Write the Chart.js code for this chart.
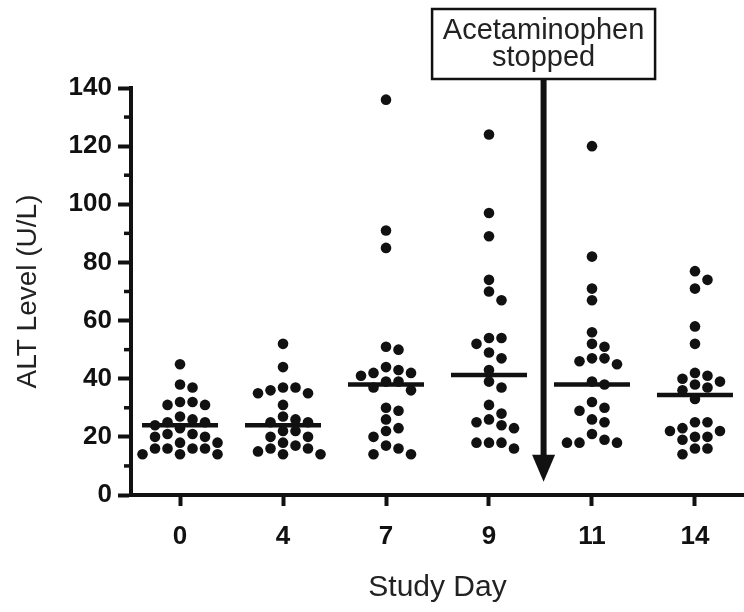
<!DOCTYPE html>
<html><head><meta charset="utf-8">
<script src="https://cdn.jsdelivr.net/npm/chart.js@4"></script>
<style>html,body{margin:0;padding:0;background:#fff}</style>
</head><body>
<canvas id="c" width="744" height="612"></canvas>
<script>
// ---- data ----
const studyDays = ['0', '4', '7', '9', '11', '14'];
const day0  = [45, 38, 37, 32, 31, 31, 32, 27, 25, 24, 25, 26, 23, 21, 21, 20, 20, 18, 18, 16, 16, 16, 16, 14, 14, 14];
const day4  = [52, 44, 37, 35, 36, 37, 35, 31, 26, 25, 25, 27, 22, 22, 20, 20, 18, 17, 16, 15, 14, 14, 16];
const day7  = [136, 91, 85, 51, 50, 44, 42, 41, 42, 43, 39, 37, 36, 39, 30, 29, 26, 22, 23, 20, 16, 14, 14, 17];
const day9  = [124, 97, 89, 74, 70, 67, 54, 52, 54, 49, 47, 43, 39, 37, 31, 28, 26, 24, 23, 25, 18, 16, 18, 18];
const day11 = [120, 82, 71, 67, 56, 52, 51, 47, 45, 46, 47, 39, 38, 32, 30, 29, 26, 25, 18, 18, 21, 18, 19];
const day14 = [77, 74, 71, 58, 52, 42, 40, 38, 39, 41, 36, 37, 33, 25, 25, 22, 22, 23, 20, 20, 19, 16, 16, 14];
const medians = [24, 24, 38, 41.3, 38, 34.4];
const yMajorTicks = [0, 20, 40, 60, 80, 100, 120, 140];
const yMinorTicks = [10, 30, 50, 70, 90, 110, 130];
const annotationLines = ['Acetaminophen', 'stopped'];
const arrowDayPos = 3.53;   // between day 9 and day 11
const arrowTipValue = 4.6;

const groups = [day0, day4, day7, day9, day11, day14];
const FONT = '"Liberation Sans", Arial, Helvetica, sans-serif';
const INK = '#111';

const overlay = {
  id: 'overlay',
  afterDraw(chart) {
    const {ctx, scales: {x, y}} = chart;
    ctx.save();
    // minor ticks on y axis
    ctx.strokeStyle = INK; ctx.lineWidth = 3.5;
    yMinorTicks.forEach(v => {
      const py = y.getPixelForValue(v);
      ctx.beginPath(); ctx.moveTo(x.left - 7, py); ctx.lineTo(x.left, py); ctx.stroke();
    });
    // annotation arrow + box
    const ax = x.getPixelForValue(arrowDayPos);
    const tipY = y.getPixelForValue(arrowTipValue);
    const boxW = 223, boxH = 70, boxTop = 9;
    const headH = 27, headW = 23;
    ctx.lineWidth = 6; ctx.strokeStyle = INK;
    ctx.beginPath(); ctx.moveTo(ax, boxTop + boxH); ctx.lineTo(ax, tipY - headH + 2); ctx.stroke();
    ctx.fillStyle = INK;
    ctx.beginPath(); ctx.moveTo(ax - headW / 2, tipY - headH); ctx.lineTo(ax + headW / 2, tipY - headH); ctx.lineTo(ax, tipY); ctx.closePath(); ctx.fill();
    ctx.fillStyle = '#fff';
    ctx.fillRect(ax - boxW / 2, boxTop, boxW, boxH);
    ctx.lineWidth = 2.5; ctx.strokeStyle = INK;
    ctx.strokeRect(ax - boxW / 2, boxTop, boxW, boxH);
    ctx.fillStyle = '#222';
    ctx.font = '29px ' + FONT;
    ctx.textAlign = 'center'; ctx.textBaseline = 'middle';
    ctx.fillText(annotationLines[0], ax, boxTop + 22);
    ctx.fillText(annotationLines[1], ax, boxTop + 49);
    ctx.restore();
  }
};

const chart = new Chart(document.getElementById('c'), {
  type: 'scatter',
  data: {
    datasets: [
      {
        label: 'ALT',
        data: groups.flatMap((g, i) => g.map(v => ({x: i, y: v}))),
        backgroundColor: INK, borderColor: INK,
        pointRadius: 5.3, pointHoverRadius: 5.3, borderWidth: 0
      },
      {
        label: 'Median',
        data: medians.map((m, i) => ({x: i, y: m})),
        pointStyle: 'line', pointRadius: 38, pointHoverRadius: 38,
        borderColor: INK, borderWidth: 4.5, backgroundColor: INK
      }
    ]
  },
  options: {
    responsive: false, animation: false, devicePixelRatio: 1,
    clip: false,
    layout: {autoPadding: false, padding: {top: 88, right: 0, left: 0, bottom: 0}},
    plugins: {legend: {display: false}, tooltip: {enabled: false}},
    scales: {
      x: {
        type: 'linear', min: -0.476, max: 5.476,
        afterFit(s) { s.height = 117; s.paddingLeft = 0; s.paddingRight = 0; },
        afterBuildTicks(s) { s.ticks = studyDays.map((d, i) => ({value: i})); },
        border: {display: true, color: INK, width: 4},
        grid: {drawOnChartArea: false, drawTicks: true, tickLength: 11, tickWidth: 4, tickColor: INK},
        ticks: {
          color: '#111', padding: 15,
          font: {family: FONT, size: 26, weight: 'bold'},
          callback: v => studyDays[v]
        },
        title: {display: true, text: 'Study Day', color: '#222',
          font: {family: FONT, size: 30}, padding: {top: 0, bottom: 6}}
      },
      y: {
        type: 'linear', min: 0, max: 140,
        afterFit(s) { s.width = 131; s.paddingTop = 0; s.paddingBottom = 0; },
        afterBuildTicks(s) { s.ticks = yMajorTicks.map(v => ({value: v})); },
        border: {display: true, color: INK, width: 4},
        grid: {drawOnChartArea: false, drawTicks: true, tickLength: 13, tickWidth: 4, tickColor: INK},
        ticks: {
          color: '#111', padding: 6,
          font: {family: FONT, size: 26, weight: 'bold'}
        },
        title: {display: true, text: 'ALT Level (U/L)', color: '#222',
          font: {family: FONT, size: 28}, padding: {top: 11, bottom: 0}}
      }
    }
  },
  plugins: [overlay]
});

// beeswarm layout computed from the values through the chart's scales
(function swarm() {
  const xs = chart.scales.x, ys = chart.scales.y;
  const pxPerUnit = xs.getPixelForValue(1) - xs.getPixelForValue(0);
  const step = 6.25, minD = 11.2;
  const pts = [];
  groups.forEach((vals, gi) => {
    const placed = [];
    vals.slice().sort((a, b) => b - a).forEach(v => {
      const py = ys.getPixelForValue(v);
      let off = 0;
      for (let k = 0; k < 60; k++) {
        const n = Math.ceil(k / 2);
        const cand = k === 0 ? 0 : (k % 2 ? n : -n) * step;
        if (placed.every(p => Math.hypot(p.ox - cand, p.py - py) >= minD)) { off = cand; break; }
      }
      placed.push({ox: off, py});
      pts.push({x: gi + off / pxPerUnit, y: v});
    });
  });
  chart.data.datasets[0].data = pts;
  chart.update('none');
})();
</script>
</body></html>
